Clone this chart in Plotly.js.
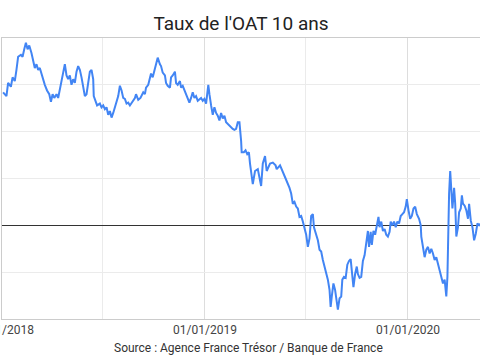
<!DOCTYPE html>
<html>
<head>
<meta charset="utf-8">
<script src="https://cdn.plot.ly/plotly-3.0.1.min.js"></script>
<style>html,body{margin:0;padding:0;background:#fff;overflow:hidden}#chart{width:480px;height:360px}</style>
</head>
<body>
<div id="chart"></div>
<script>
const chartTitle = "Taux de l'OAT 10 ans";
const sourceText = "Source : Agence France Trésor / Banque de France";
const tickDates = ['2018-01-01', '2019-01-01', '2020-01-01'];
const tickLabels = ['01/01/2018', '01/01/2019', '01/01/2020'];

const dates = [
'2018-01-03','2018-01-09','2018-01-12','2018-01-17','2018-01-20','2018-01-24','2018-01-27','2018-01-30',
'2018-02-04','2018-02-07','2018-02-10','2018-02-13','2018-02-16','2018-02-19','2018-02-23','2018-02-26',
'2018-03-01','2018-03-04','2018-03-07','2018-03-10','2018-03-13','2018-03-16','2018-03-19','2018-03-23','2018-03-27','2018-03-30',
'2018-04-02','2018-04-05','2018-04-09','2018-04-12','2018-04-15','2018-04-18','2018-04-21','2018-04-24','2018-04-27','2018-04-30',
'2018-05-03','2018-05-06','2018-05-09','2018-05-12','2018-05-15','2018-05-18','2018-05-21','2018-05-24','2018-05-27','2018-05-30',
'2018-06-02','2018-06-05','2018-06-08','2018-06-11','2018-06-14','2018-06-15','2018-06-18','2018-06-21','2018-06-26','2018-06-29',
'2018-07-02','2018-07-05','2018-07-08','2018-07-11','2018-07-14','2018-07-17','2018-07-20','2018-07-23','2018-07-26','2018-07-29',
'2018-08-01','2018-08-04','2018-08-07','2018-08-10','2018-08-13','2018-08-16','2018-08-19','2018-08-21','2018-08-25','2018-08-28','2018-08-30',
'2018-09-03','2018-09-07','2018-09-12','2018-09-15','2018-09-17','2018-09-21','2018-09-24','2018-09-26','2018-09-29',
'2018-10-03','2018-10-05','2018-10-08','2018-10-12','2018-10-14','2018-10-17','2018-10-21','2018-10-23','2018-10-26','2018-10-30',
'2018-11-01','2018-11-04','2018-11-08','2018-11-10','2018-11-13','2018-11-17','2018-11-19','2018-11-22','2018-11-25','2018-11-28',
'2018-12-01','2018-12-04','2018-12-07','2018-12-10','2018-12-13','2018-12-16','2018-12-19','2018-12-22','2018-12-25','2018-12-28','2018-12-31',
'2019-01-03','2019-01-06','2019-01-07','2019-01-09','2019-01-10','2019-01-12','2019-01-15','2019-01-18','2019-01-21','2019-01-24','2019-01-27','2019-01-30',
'2019-02-02','2019-02-05','2019-02-08','2019-02-11','2019-02-14','2019-02-17','2019-02-20','2019-02-23','2019-02-26',
'2019-03-01','2019-03-04','2019-03-07','2019-03-08','2019-03-12','2019-03-15','2019-03-18','2019-03-21','2019-03-23','2019-03-25','2019-03-28',
'2019-04-01','2019-04-06','2019-04-12','2019-04-15','2019-04-19','2019-04-22','2019-04-28',
'2019-05-03','2019-05-08','2019-05-10','2019-05-16','2019-05-21','2019-05-26',
'2019-06-02','2019-06-05','2019-06-08','2019-06-11','2019-06-14','2019-06-17','2019-06-20','2019-06-23','2019-06-26','2019-06-29',
'2019-07-02','2019-07-05','2019-07-08','2019-07-11','2019-07-14','2019-07-16','2019-07-20','2019-07-23','2019-07-26','2019-07-29',
'2019-08-01','2019-08-04','2019-08-07','2019-08-10','2019-08-13','2019-08-15','2019-08-17','2019-08-20','2019-08-23','2019-08-25','2019-08-28','2019-08-31',
'2019-09-03','2019-09-05','2019-09-08','2019-09-11','2019-09-14','2019-09-17','2019-09-20','2019-09-22','2019-09-25','2019-09-28',
'2019-10-01','2019-10-03','2019-10-06','2019-10-09','2019-10-12','2019-10-15','2019-10-18','2019-10-21','2019-10-23','2019-10-26','2019-10-28','2019-10-31',
'2019-11-03','2019-11-06','2019-11-09','2019-11-11','2019-11-14','2019-11-17','2019-11-20','2019-11-23','2019-11-26','2019-11-29',
'2019-12-01','2019-12-04','2019-12-07','2019-12-10','2019-12-13','2019-12-16','2019-12-19','2019-12-22','2019-12-25','2019-12-28','2019-12-30',
'2020-01-02','2020-01-05','2020-01-08','2020-01-11','2020-01-14','2020-01-17','2020-01-21','2020-01-24','2020-01-25','2020-01-28','2020-01-31',
'2020-02-03','2020-02-06','2020-02-09','2020-02-12','2020-02-15','2020-02-18','2020-02-21','2020-02-24','2020-02-27','2020-02-29',
'2020-03-04','2020-03-07','2020-03-10','2020-03-12','2020-03-13','2020-03-15','2020-03-17','2020-03-19','2020-03-21','2020-03-24','2020-03-26','2020-03-28','2020-03-31',
'2020-04-02','2020-04-05','2020-04-07','2020-04-09','2020-04-12','2020-04-15','2020-04-18','2020-04-20','2020-04-23','2020-04-26','2020-04-29',
'2020-05-02','2020-05-05','2020-05-08','2020-05-11'
];

const rates = [
0.71,0.69,0.76,0.74,0.79,0.77,0.83,0.90,
0.91,0.90,0.94,0.975,0.94,0.96,0.92,0.88,
0.84,0.86,0.83,0.84,0.81,0.77,0.75,0.72,0.70,0.66,
0.70,0.68,0.70,0.68,0.72,0.76,0.815,0.86,0.80,0.78,
0.80,0.75,0.78,0.76,0.82,0.85,0.83,0.79,0.73,0.69,
0.70,0.76,0.82,0.83,0.78,0.69,0.665,0.64,0.65,0.63,
0.64,0.62,0.63,0.59,0.61,0.575,0.60,0.63,0.665,0.69,
0.745,0.72,0.68,0.675,0.65,0.655,0.64,0.65,0.665,0.68,0.70,
0.67,0.68,0.71,0.70,0.735,0.75,0.79,0.81,0.79,
0.84,0.86,0.895,0.86,0.85,0.815,0.80,0.76,0.745,0.735,
0.79,0.80,0.82,0.76,0.75,0.77,0.735,0.745,0.72,0.70,
0.68,0.655,0.68,0.71,0.68,0.69,0.665,0.675,0.68,0.665,0.675,
0.65,0.735,0.75,0.70,0.665,0.64,0.59,0.63,0.60,0.585,0.56,0.60,
0.57,0.585,0.55,0.54,0.53,0.52,0.515,0.51,0.515,
0.55,0.55,0.45,0.39,0.39,0.40,0.38,0.39,0.33,0.29,0.22,
0.29,0.30,0.21,0.33,0.37,0.29,0.33,
0.335,0.32,0.30,0.32,0.28,0.25,
0.20,0.17,0.115,0.125,0.10,0.09,0.045,0.05,0.02,-0.01,
-0.05,-0.115,-0.07,0.05,0.06,-0.01,-0.05,-0.08,-0.13,-0.14,
-0.185,-0.22,-0.26,-0.29,-0.345,-0.435,-0.38,-0.31,-0.345,-0.39,-0.45,-0.39,
-0.38,-0.29,-0.275,-0.28,-0.21,-0.19,-0.18,-0.24,-0.33,-0.26,
-0.22,-0.26,-0.28,-0.275,-0.19,-0.16,-0.09,-0.03,-0.115,-0.035,-0.105,-0.03,
-0.05,0.00,0.045,-0.01,0.02,-0.03,-0.02,-0.05,-0.06,-0.035,
0.02,0.00,0.02,-0.01,0.02,0.01,0.05,0.06,0.07,0.10,0.14,
0.08,0.035,0.05,0.09,0.10,0.06,0.035,0.00,-0.06,-0.105,-0.17,
-0.13,-0.115,-0.15,-0.125,-0.15,-0.185,-0.17,-0.205,-0.23,-0.265,
-0.31,-0.29,-0.38,-0.275,-0.03,0.17,0.29,0.17,0.09,0.20,0.115,-0.06,-0.01,
0.07,0.09,0.16,0.115,0.105,0.08,0.035,0.115,0.025,-0.01,-0.08,
-0.045,0.01,0.00,0.01
];

const trace = {
  type: 'scatter', mode: 'lines', x: dates, y: rates,
  line: {color: '#4285f4', width: 2}, hoverinfo: 'skip', showlegend: false
};

const layout = {
  width: 480, height: 360,
  margin: {l: 2, r: 0, t: 38, b: 41, pad: 0},
  paper_bgcolor: '#ffffff', plot_bgcolor: '#ffffff',
  font: {family: 'Roboto, Arial, sans-serif', size: 12, color: '#444444'},
  title: {text: chartTitle, font: {family: 'Roboto, Arial, sans-serif', size: 19, color: '#222222'},
          x: 0.5, xref: 'paper', xanchor: 'center', y: 0.936, yref: 'container', yanchor: 'middle'},
  xaxis: {
    type: 'date', range: ['2018-01-01', '2020-05-09 14:00'],
    tickvals: tickDates, ticktext: tickLabels, ticks: '', ticklabeloverflow: 'allow',
    showgrid: true, gridcolor: '#dddddd', gridwidth: 1,
    minor: {dtick: 'M6', tick0: '2018-01-01', showgrid: true, gridcolor: '#ebebeb', gridwidth: 1, ticks: ''},
    showline: true, linecolor: '#cccccc', linewidth: 1, mirror: true,
    zeroline: false, fixedrange: true,
    tickfont: {family: 'Roboto, Arial, sans-serif', size: 12, color: '#444444'}
  },
  yaxis: {
    range: [-0.5, 1.0], tick0: 0, dtick: 0.25, showticklabels: false, ticks: '',
    showgrid: true, gridcolor: '#ebebeb', gridwidth: 1,
    zeroline: true, zerolinecolor: '#333333', zerolinewidth: 1,
    showline: true, linecolor: '#cccccc', linewidth: 1, fixedrange: true
  },
  annotations: [{
    text: sourceText, xref: 'paper', yref: 'paper', x: 0.5157, y: -0.103,
    xanchor: 'center', yanchor: 'middle', showarrow: false,
    font: {family: 'Roboto, Arial, sans-serif', size: 12, color: '#333333'}
  }]
};

Plotly.newPlot('chart', [trace], layout, {displayModeBar: false, staticPlot: true});
</script>
</body>
</html>
